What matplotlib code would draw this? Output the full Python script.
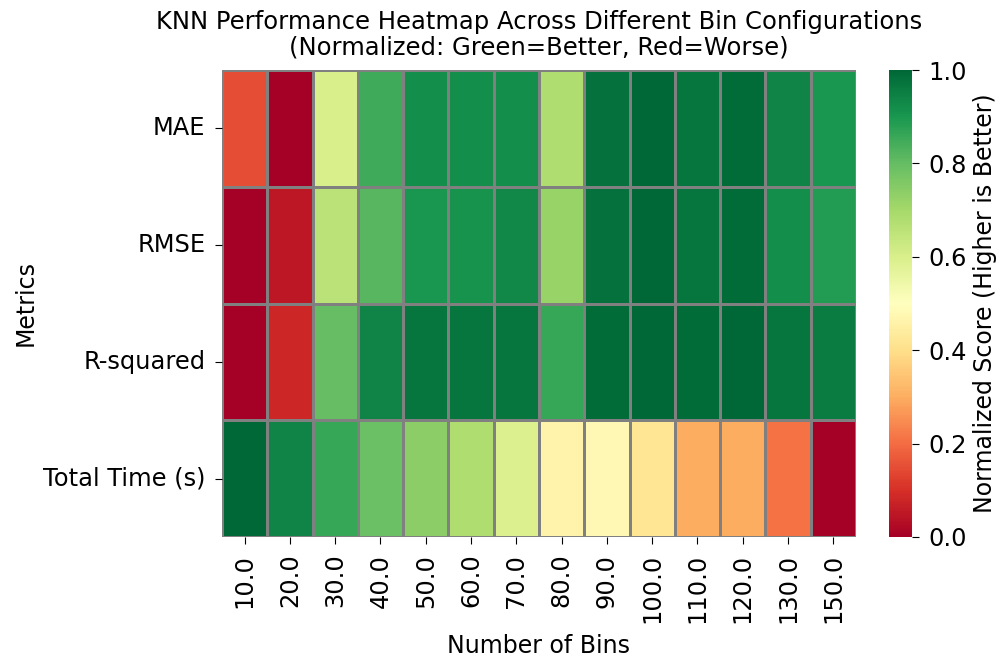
import numpy as np
import pandas as pd
import matplotlib
matplotlib.use("Agg")
import matplotlib.pyplot as plt
import seaborn as sns

bins = [10.0, 20.0, 30.0, 40.0, 50.0, 60.0, 70.0, 80.0, 90.0, 100.0, 110.0, 120.0, 130.0, 150.0]
metrics = ["MAE", "RMSE", "R-squared", "Total Time (s)"]

mae_score = [0.15, 0.00, 0.60, 0.85, 0.92, 0.92, 0.92, 0.68, 0.98, 1.00, 0.97, 0.99, 0.94, 0.90]
rmse_score = [0.00, 0.05, 0.66, 0.82, 0.90, 0.91, 0.93, 0.72, 0.98, 1.00, 0.97, 0.99, 0.92, 0.89]
r2_score = [0.00, 0.08, 0.80, 0.94, 0.97, 0.97, 0.97, 0.86, 0.99, 1.00, 0.99, 1.00, 0.97, 0.96]
time_score = [1.00, 0.94, 0.86, 0.79, 0.74, 0.68, 0.59, 0.46, 0.48, 0.42, 0.30, 0.30, 0.21, 0.00]

scores = pd.DataFrame([mae_score, rmse_score, r2_score, time_score],
                      index=metrics, columns=bins)

fig = plt.figure(figsize=(10.03, 6.58), dpi=100)
ax = fig.add_axes([222 / 1003, 1 - 537 / 658, (856 - 222) / 1003, (537 - 70) / 658])
cax = fig.add_axes([889 / 1003, 1 - 537 / 658, (912 - 889) / 1003, (537 - 70) / 658])

sns.heatmap(scores, ax=ax, cbar_ax=cax, cmap="RdYlGn", vmin=0, vmax=1,
            linewidths=0.8, linecolor="gray",
            cbar_kws={"label": "Normalized Score (Higher is Better)"})

ax.set_title("KNN Performance Heatmap Across Different Bin Configurations\n"
             "(Normalized: Green=Better, Red=Worse)", fontsize=17.5, pad=11,
             linespacing=1.1)
ax.set_xlabel("Number of Bins", fontsize=17, labelpad=8)
ax.set_ylabel("Metrics", fontsize=17, labelpad=4)
ax.tick_params(axis="both", labelsize=17.4, length=5, pad=7)
ax.set_xticklabels([str(b) for b in bins], rotation=90)
ax.set_yticklabels(metrics, rotation=0)

cax.tick_params(labelsize=17.4, length=5, pad=7)
cax.yaxis.label.set_size(17)
cax.set_yticks([0.0, 0.2, 0.4, 0.6, 0.8, 1.0])

fig.savefig("out.png", dpi=100)
